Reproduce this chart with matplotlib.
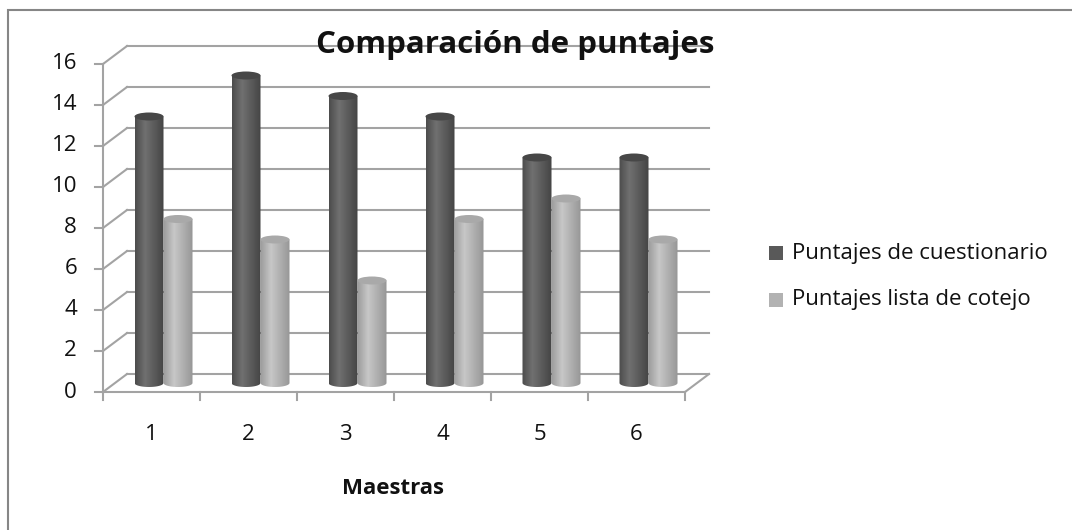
import numpy as np
import matplotlib
matplotlib.use('Agg')
import matplotlib.pyplot as plt
from matplotlib.patches import Ellipse, PathPatch, Rectangle
from matplotlib.path import Path

plt.rcParams['font.family'] = ['Open Sans', 'DejaVu Sans']

# Data
maestras = ['1', '2', '3', '4', '5', '6']
cuestionario = [13, 15, 14, 13, 11, 11]
cotejo = [8, 7, 5, 8, 9, 7]
y_ticks = [0, 2, 4, 6, 8, 10, 12, 14, 16]
series_names = ['Puntajes de cuestionario', 'Puntajes lista de cotejo']

W, H = 1072, 530
fig = plt.figure(figsize=(W / 100, H / 100), dpi=100)
ax = fig.add_axes([0, 0, 1, 1])
ax.axis('off')

# map data units onto the image (front axis corner, px per unit)
x0_px, ux = 103, 97.0
y0_px, uy = 392, 20.5
ax.set_xlim(0.5 - x0_px / ux, 0.5 + (W - x0_px) / ux)
ax.set_ylim(-(H - y0_px) / uy, y0_px / uy)

DX = 24 / ux   # depth offset
DY = 18 / uy
grid_c = '#a3a3a3'
txt_c = '#111111'
lw = 1.5
n = len(maestras)
xl, xr = 0.5, n + 0.5

# back wall gridlines + left diagonals + y ticks
for v in y_ticks:
    ax.plot([xl + DX, xr + DX], [v + DY, v + DY], color=grid_c, lw=lw, zorder=1)
    ax.plot([xl, xl + DX], [v, v], color=grid_c, lw=0, zorder=1)
    ax.plot([xl, xl + DX], [v, v + DY], color=grid_c, lw=lw, zorder=1)
    ax.plot([xl - 8 / ux, xl], [v, v], color=grid_c, lw=lw, zorder=1)
    ax.text(xl - 26 / ux, v, str(v), ha='right', va='center', fontsize=16, color=txt_c)
ax.plot([xl, xl], [0, y_ticks[-1]], color=grid_c, lw=lw, zorder=1)

# floor
ax.plot([xl, xr], [0, 0], color=grid_c, lw=lw, zorder=1)
ax.plot([xr, xr + DX], [0, DY], color=grid_c, lw=lw, zorder=1)
for b in np.arange(xl, xr + 0.01, 1.0):
    ax.plot([b, b], [0, -8 / uy], color=grid_c, lw=lw, zorder=1)
for i, lab in enumerate(maestras):
    ax.text(i + 1, -43 / uy, lab, ha='center', va='center', fontsize=16, color=txt_c)
ax.text((343 + 443) / 2 / ux + 0.5 - x0_px / ux, -(488 - y0_px) / uy, 'Maestras',
        ha='center', va='center', fontsize=16, fontweight='bold', color=txt_c)

# cylinders
bw = 29 / ux
eh = 8 / uy
base = DY / 2


def cylinder(xc, v, profile, top_c):
    x0, x1 = xc - bw / 2, xc + bw / 2
    top = base + v
    t = np.linspace(np.pi, 2 * np.pi, 40)
    verts = [(x0, top), (x0, base)]
    verts += list(zip(xc + bw / 2 * np.cos(t), base + eh / 2 * np.sin(t)))
    verts += [(x1, top), (x0, top)]
    codes = [Path.MOVETO] + [Path.LINETO] * (len(verts) - 2) + [Path.CLOSEPOLY]
    body = PathPatch(Path(verts, codes), facecolor='none', edgecolor='none', zorder=3)
    ax.add_patch(body)
    xs = np.linspace(0, 1, 64)
    grad = np.interp(xs, [0, 0.35, 1], profile)[None, :]
    im = ax.imshow(grad, extent=[x0, x1, base - eh / 2, top], cmap='gray', vmin=0, vmax=1,
                   aspect='auto', interpolation='bilinear', zorder=3)
    im.set_clip_path(body)
    ax.add_patch(Ellipse((xc, top), bw, eh, facecolor=top_c, edgecolor='none', zorder=4))


for i in range(n):
    xc = i + 1 + DX / 2
    cylinder(xc - bw / 2, cuestionario[i], [0.30, 0.44, 0.27], '#474747')
    cylinder(xc + bw / 2, cotejo[i], [0.62, 0.78, 0.59], '#a9a9a9')

ax.set_xlim(0.5 - x0_px / ux, 0.5 + (W - x0_px) / ux)
ax.set_ylim(-(H - y0_px) / uy, y0_px / uy)

# title
fig.text(515 / W, 1 - 45 / H, 'Comparación de puntajes', ha='center', va='center',
         fontsize=22.5, fontweight='bold', color=txt_c)

# legend
for (name, c, yy) in zip(series_names, ['#595959', '#b2b2b2'], [253, 300]):
    fig.patches.append(Rectangle((769 / W, 1 - (yy + 7) / H), 14 / W, 14 / H,
                                 transform=fig.transFigure, facecolor=c, edgecolor='none'))
    fig.text(792 / W, 1 - yy / H, name, ha='left', va='center', fontsize=16, color=txt_c)

# outer border
fig.patches.append(Rectangle((8 / W, -0.1), 2, 1.1 - 10 / H, transform=fig.transFigure,
                             facecolor='none', edgecolor='#868686', lw=1.5))

fig.savefig('out.png', dpi=100)
